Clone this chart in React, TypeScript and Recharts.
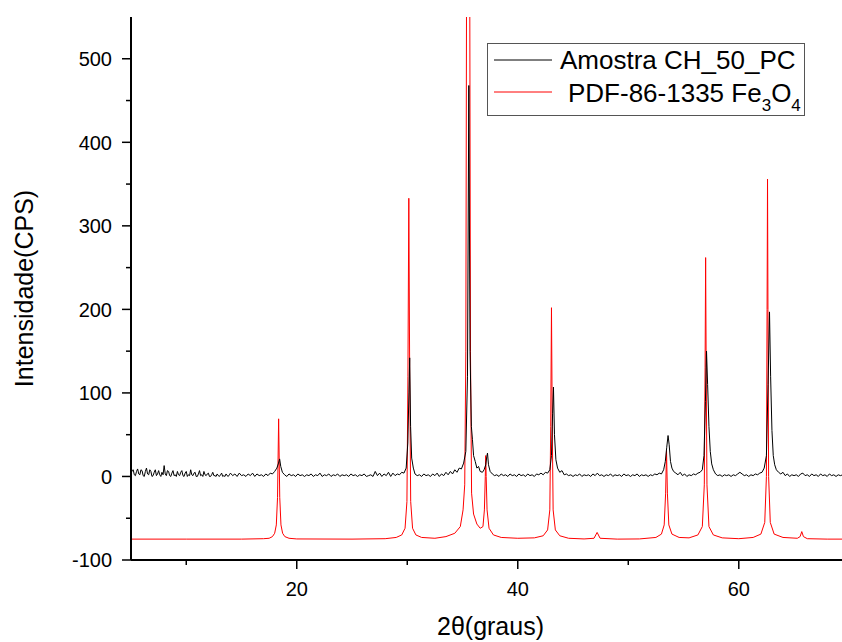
import { Legend, Line, LineChart, XAxis, YAxis } from "recharts";

const FONT = "'Liberation Sans', Arial, sans-serif";
const RED = "#ff0000";

// 2θ (graus), CPS — amostra medida
const amostra: [number, number][] = [
  [5.0, 3], [5.1, 7], [5.2, 8], [5.3, 2], [5.4, 1], [5.5, 6], [5.6, 9], [5.7, 3], [5.8, 2], [5.9, 8], [6.0, 7], [6.1, 1],
  [6.2, 0], [6.3, 6], [6.4, 10], [6.5, 3], [6.6, 2], [6.7, 8], [6.8, 6], [6.9, 0], [7.0, 1], [7.1, 5], [7.2, 8], [7.3, 1],
  [7.4, 3], [7.5, 7], [7.6, 2], [7.7, 0], [7.8, 5], [7.9, 2], [8.0, 13], [8.1, 3], [8.2, 1], [8.3, 7], [8.4, 6], [8.5, 1],
  [8.6, 0], [8.7, 4], [8.8, 7], [8.9, 1], [9.0, 2], [9.1, 0], [9.2, 6], [9.3, 2], [9.4, 1], [9.5, 5], [9.6, 7], [9.7, 1],
  [9.8, 0], [9.9, 4], [10.0, 6], [10.1, 0], [10.2, 2], [10.3, 1], [10.4, 8], [10.5, 2], [10.6, 1], [10.7, 4], [10.8, 5], [10.9, 0],
  [11.0, 0], [11.1, 3], [11.2, 7], [11.3, 1], [11.4, 2], [11.5, 0], [11.6, 6], [11.7, 2], [11.8, 1], [11.9, 3], [12.0, 4], [12.1, 0],
  [12.2, 0], [12.3, 2], [12.4, 5], [12.5, 1], [12.6, 1], [12.7, 0], [12.8, 3], [12.9, 1], [13.0, 0], [13.1, 2], [13.2, 4], [13.3, 0],
  [13.4, 1], [13.5, 0], [13.6, 3], [13.7, 1], [13.8, 0], [13.9, 2], [14.0, 4], [14.2, 1], [14.4, 3], [14.6, 0], [14.8, 4],
  [15.0, 1], [15.2, 2], [15.4, 0], [15.6, 3], [15.8, 1], [16.0, 4], [16.2, 0], [16.4, 3], [16.6, 1], [16.8, 2],
  [17.0, 0], [17.2, 3], [17.4, 1], [17.6, 4], [17.8, 3], [18.0, 6], [18.2, 10], [18.35, 16], [18.45, 21], [18.55, 12],
  [18.7, 5], [18.9, 2], [19.1, 0], [19.3, 3], [19.5, 1], [19.7, 2], [19.9, 0], [20.1, 3], [20.3, 1], [20.5, 2],
  [20.7, 0], [20.9, 2], [21.1, 1], [21.3, 3], [21.5, 0], [21.7, 2], [21.9, 1], [22.1, 4], [22.3, 0], [22.5, 2],
  [22.7, 1], [22.9, 3], [23.1, 0], [23.3, 2], [23.5, 1], [23.7, 3], [23.9, 0], [24.1, 2], [24.3, 1], [24.5, 2],
  [24.7, 0], [24.9, 3], [25.1, 1], [25.3, 2], [25.5, 0], [25.7, 2], [25.9, 1], [26.1, 3], [26.3, 0], [26.5, 1],
  [26.7, 2], [26.9, 0], [27.1, 6], [27.3, 1], [27.5, 4], [27.7, 0], [27.9, 3], [28.1, 1], [28.3, 5], [28.5, 0],
  [28.7, 4], [28.9, 1], [29.1, 3], [29.3, 2], [29.5, 5], [29.7, 4], [29.9, 10], [30.05, 40], [30.15, 100], [30.22, 142],
  [30.3, 60], [30.4, 22], [30.55, 10], [30.7, 3], [30.9, 1], [31.1, 2], [31.3, 0], [31.5, 3], [31.7, 1], [31.9, 2],
  [32.1, 0], [32.3, 3], [32.5, 1], [32.7, 4], [32.9, 0], [33.1, 3], [33.3, 1], [33.5, 5], [33.7, 2], [33.9, 6],
  [34.1, 3], [34.3, 8], [34.5, 5], [34.7, 10], [34.9, 9], [35.1, 16], [35.3, 30], [35.45, 120], [35.57, 468], [35.68, 150],
  [35.8, 60], [35.9, 44], [36.0, 25], [36.15, 18], [36.3, 10], [36.45, 12], [36.6, 6], [36.8, 5], [36.95, 8], [37.1, 14],
  [37.2, 24], [37.26, 28], [37.35, 14], [37.5, 6], [37.7, 3], [37.9, 1], [38.1, 2], [38.3, 0], [38.5, 3], [38.7, 1],
  [38.9, 2], [39.1, 0], [39.3, 3], [39.5, 1], [39.7, 2], [39.9, 0], [40.1, 3], [40.3, 1], [40.5, 2], [40.7, 0],
  [40.9, 3], [41.1, 1], [41.3, 2], [41.5, 0], [41.7, 3], [41.9, 2], [42.1, 4], [42.3, 2], [42.5, 5], [42.7, 4],
  [42.9, 8], [43.05, 25], [43.15, 75], [43.23, 107], [43.32, 50], [43.45, 20], [43.6, 10], [43.8, 5], [44.0, 7], [44.2, 2],
  [44.4, 3], [44.6, 1], [44.8, 2], [45.0, 0], [45.2, 2], [45.4, 1], [45.6, 3], [45.8, 0], [46.0, 2], [46.2, 1],
  [46.4, 2], [46.6, 0], [46.8, 3], [47.0, 1], [47.2, 4], [47.4, 1], [47.6, 2], [47.8, 0], [48.0, 2], [48.2, 1],
  [48.4, 3], [48.6, 0], [48.8, 2], [49.0, 1], [49.2, 2], [49.4, 0], [49.6, 3], [49.8, 1], [50.0, 2], [50.2, 0],
  [50.4, 2], [50.6, 1], [50.8, 3], [51.0, 0], [51.2, 2], [51.4, 1], [51.6, 2], [51.8, 0], [52.0, 2], [52.2, 1],
  [52.4, 3], [52.6, 2], [52.8, 4], [53.0, 3], [53.2, 8], [53.35, 18], [53.48, 35], [53.6, 49], [53.7, 38], [53.82, 18],
  [53.95, 10], [54.1, 6], [54.3, 4], [54.5, 2], [54.7, 5], [54.9, 1], [55.1, 3], [55.3, 0], [55.5, 2], [55.7, 1],
  [55.9, 3], [56.1, 2], [56.3, 4], [56.5, 5], [56.7, 8], [56.85, 25], [56.98, 90], [57.08, 150], [57.18, 110], [57.3, 60],
  [57.42, 30], [57.55, 15], [57.7, 8], [57.9, 3], [58.1, 1], [58.3, 2], [58.5, 0], [58.7, 2], [58.9, 1], [59.1, 2],
  [59.3, 0], [59.5, 2], [59.7, 1], [59.9, 3], [60.1, 5], [60.3, 3], [60.5, 1], [60.7, 2], [60.9, 0], [61.1, 2],
  [61.3, 1], [61.5, 3], [61.7, 2], [61.9, 4], [62.1, 5], [62.3, 10], [62.5, 25], [62.65, 110], [62.78, 197], [62.88, 120],
  [63.0, 55], [63.12, 25], [63.25, 14], [63.4, 8], [63.6, 5], [63.8, 3], [64.0, 5], [64.2, 1], [64.4, 3], [64.6, 0],
  [64.8, 2], [65.0, 1], [65.2, 2], [65.4, 0], [65.6, 3], [65.8, 4], [66.0, 1], [66.2, 2], [66.4, 0], [66.6, 3],
  [66.8, 1], [67.0, 2], [67.2, 0], [67.4, 3], [67.6, 1], [67.8, 2], [68.0, 0], [68.2, 3], [68.4, 1], [68.6, 2],
  [68.8, 0], [69.0, 2], [69.2, 1], [69.4, 2],
];

// 2θ (graus), CPS — padrão PDF-86-1335 (deslocado)
const pdf: [number, number][] = [
  [5, -75], [10, -75], [15, -75], [17, -74.5], [17.5, -74], [17.8, -72], [18.0, -68], [18.15, -58], [18.26, -25], [18.36, 69],
  [18.46, -25], [18.57, -58], [18.72, -68], [18.92, -72], [19.3, -74], [20, -74.8], [25, -75], [28, -74.5], [29, -73], [29.5, -70],
  [29.8, -62], [29.97, -30], [30.06, 120], [30.14, 333], [30.22, 120], [30.31, -30], [30.48, -62], [30.78, -70], [31.3, -73], [32.5, -74],
  [33.5, -72], [34.3, -68], [34.8, -60], [35.05, -40], [35.2, -10], [35.3, 150], [35.36, 550], [35.51, 1000], [35.66, 550], [35.72, 150],
  [35.82, -20], [36.0, -45], [36.3, -57], [36.6, -62], [36.85, -60], [36.98, -40], [37.06, 0], [37.1, 25], [37.14, 0], [37.22, -40],
  [37.4, -62], [37.8, -70], [38.5, -73], [40, -74], [41.5, -73.5], [42.3, -71], [42.7, -64], [42.9, -40], [42.98, 60], [43.05, 202],
  [43.12, 60], [43.2, -40], [43.4, -64], [43.8, -71], [44.6, -74], [46, -74.8], [46.9, -74], [47.18, -67], [47.45, -74], [49, -75],
  [51, -74.8], [52.5, -73], [53.0, -69], [53.25, -58], [53.38, -20], [53.46, 31], [53.54, -20], [53.67, -58], [53.95, -69], [54.6, -73],
  [55.5, -73.5], [56.3, -70], [56.7, -60], [56.88, -10], [56.95, 130], [57.0, 262], [57.05, 130], [57.12, -10], [57.3, -60], [57.7, -70],
  [58.5, -73.5], [60, -74.5], [61.3, -73], [62.0, -69], [62.35, -55], [62.5, 0], [62.56, 200], [62.6, 356], [62.64, 200], [62.7, 0],
  [62.85, -55], [63.2, -69], [64, -73], [65.3, -74], [65.55, -72], [65.7, -66], [65.85, -72], [66.2, -74.5], [68, -75], [69.5, -75],
];

const xTicks = [10, 20, 30, 40, 50, 60];
const xMajor = [20, 40, 60];
const yTicks = [-100, -50, 0, 50, 100, 150, 200, 250, 300, 350, 400, 450, 500];
const yMajor = [-100, 0, 100, 200, 300, 400, 500];

const amostraData = amostra.map(([t, cps]) => ({ t, cps }));
const pdfData = pdf.map(([t, cps]) => ({ t, cps }));

const XTick = (props: any) => {
  const { x, y, payload } = props;
  const major = xMajor.includes(payload.value);
  return (
    <g>
      <line x1={x} x2={x} y1={y} y2={y + (major ? 9 : 5)} stroke="#000" strokeWidth={1.5} />
      {major && (
        <text x={x} y={y + 36} textAnchor="middle" fontSize={20} fontFamily={FONT} fill="#000">
          {payload.value}
        </text>
      )}
    </g>
  );
};

const TopTick = (props: any) => {
  const { x, y, payload } = props;
  const major = xMajor.includes(payload.value);
  return <line x1={x} x2={x} y1={y} y2={y - (major ? 1 : 4)} stroke="#000" strokeWidth={1.5} />;
};

const YTick = (props: any) => {
  const { x, y, payload } = props;
  const major = yMajor.includes(payload.value);
  return (
    <g>
      <line x1={x} x2={x - (major ? 9 : 5)} y1={y} y2={y} stroke="#000" strokeWidth={1.5} />
      {major && (
        <text x={x - 19} y={y} dy="0.36em" textAnchor="end" fontSize={20} fontFamily={FONT} fill="#000">
          {payload.value}
        </text>
      )}
    </g>
  );
};

const LegendBox = () => (
  <svg width={318} height={73} style={{ display: "block" }}>
    <rect x={0.5} y={0.5} width={317} height={72} fill="#fff" stroke="#555" />
    <line x1={7} x2={65} y1={17} y2={17} stroke="#000" />
    <line x1={7} x2={65} y1={49} y2={49} stroke={RED} />
    <text x={73} y={26} fontSize={26} fontFamily={FONT} fill="#000">
      Amostra CH_50_PC
    </text>
    <text x={81} y={59} fontSize={26} fontFamily={FONT} fill="#000">
      PDF-86-1335 Fe
      <tspan fontSize={17} dy={9}>3</tspan>
      <tspan dy={-9}>O</tspan>
      <tspan fontSize={17} dy={9}>4</tspan>
    </text>
  </svg>
);

export default function App() {
  return (
    <div style={{ position: "absolute", left: 0, top: 0 }}>
      <LineChart width={842} height={642} margin={{ top: 17, right: 0, bottom: 0, left: 0 }}>
        <XAxis
          dataKey="t"
          type="number"
          domain={[5, 69.34]}
          allowDataOverflow
          ticks={xTicks}
          interval={0}
          tickSize={0}
          tickMargin={0}
          tickLine={false}
          height={82}
          axisLine={{ stroke: "#000", strokeWidth: 2 }}
          tick={XTick}
          label={(p: any) => {
            const vb = p.viewBox;
            return (
              <text x={vb.x + vb.width / 2 + 4} y={vb.y + 75} textAnchor="middle" fontSize={25} fontFamily={FONT} fill="#000">
                2θ(graus)
              </text>
            );
          }}
        />
        <XAxis
          xAxisId="top"
          orientation="top"
          dataKey="t"
          type="number"
          domain={[5, 69.34]}
          allowDataOverflow
          ticks={xTicks}
          interval={0}
          tickSize={0}
          tickMargin={0}
          tickLine={false}
          height={0}
          axisLine={{ stroke: "#000", strokeWidth: 2 }}
          tick={TopTick}
        />
        <YAxis
          type="number"
          domain={[-100, 550]}
          allowDataOverflow
          ticks={yTicks}
          interval={0}
          tickSize={0}
          tickMargin={0}
          tickLine={false}
          width={131}
          axisLine={{ stroke: "#000", strokeWidth: 2 }}
          tick={YTick}
          label={(p: any) => {
            const vb = p.viewBox;
            const cx = vb.x + 33;
            const cy = vb.y + vb.height / 2;
            return (
              <text
                x={cx}
                y={cy}
                transform={`rotate(-90 ${cx} ${cy})`}
                textAnchor="middle"
                fontSize={25}
                fontFamily={FONT}
                fill="#000"
              >
                Intensidade(CPS)
              </text>
            );
          }}
        />
        <Legend
          verticalAlign="middle"
          align="center"
          content={LegendBox}
          wrapperStyle={{ left: 487, top: 43, width: 318, height: 73 }}
        />
        <Line
          data={pdfData}
          dataKey="cps"
          name="PDF-86-1335 Fe3O4"
          stroke={RED}
          strokeWidth={1}
          dot={false}
          type="linear"
          isAnimationActive={false}
        />
        <Line
          data={amostraData}
          dataKey="cps"
          name="Amostra CH_50_PC"
          stroke="#000"
          strokeWidth={1}
          dot={false}
          type="linear"
          isAnimationActive={false}
        />
      </LineChart>
    </div>
  );
}
